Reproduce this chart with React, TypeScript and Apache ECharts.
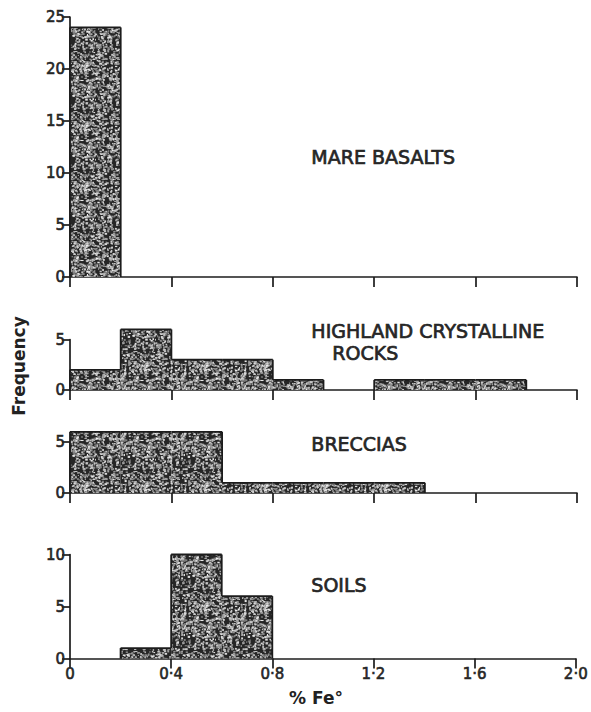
import React, { useEffect, useRef } from "react";
import * as echarts from "echarts";

// ---- data ----
const binStarts = [0, 0.2, 0.4, 0.6, 0.8, 1.0, 1.2, 1.4, 1.6, 1.8];
const binWidth = 0.2;
const mareBasalts = [24, 0, 0, 0, 0, 0, 0, 0, 0, 0];
const highlandRocks = [2, 6, 3, 3, 1, 0, 1, 1, 1, 0];
const breccias = [6, 6, 6, 1, 1, 1, 1, 0, 0, 0];
const soils = [0, 1, 10, 6, 0, 0, 0, 0, 0, 0];
const panelTitles = [["MARE BASALTS"], ["HIGHLAND CRYSTALLINE", "ROCKS"], ["BRECCIAS"], ["SOILS"]];
const yMaxes = [25, 5, 5, 10];
const xTicks = [0, 0.4, 0.8, 1.2, 1.6, 2.0];

const FONT = "DejaVu Sans";
const INK = "#1c1c1c";

function makeSpeckle(): HTMLCanvasElement {
  const c = document.createElement("canvas");
  c.width = 60;
  c.height = 60;
  const ctx = c.getContext("2d")!;
  ctx.fillStyle = "#262626";
  ctx.fillRect(0, 0, 60, 60);
  let s = 987654;
  const rnd = () => {
    s = (s * 1103515245 + 12345) & 0x7fffffff;
    return s / 0x7fffffff;
  };
  for (let k = 0; k < 900; k++) {
    const x = rnd() * 60;
    const y = rnd() * 60;
    const g = Math.floor(120 + rnd() * 120);
    ctx.fillStyle = `rgb(${g},${g},${g})`;
    ctx.fillRect(x, y, 1 + rnd() * 1.6, 1 + rnd() * 1.2);
  }
  return c;
}

export default function App() {
  const ref = useRef<HTMLDivElement>(null);
  useEffect(() => {
    document.body.style.margin = "0";
    if (!ref.current) return;
    const chart = echarts.init(ref.current, undefined, { renderer: "svg" });
    const speckle = makeSpeckle();
    const panels = [mareBasalts, highlandRocks, breccias, soils];
    const grids = [
      { left: 70, width: 507, top: 17, height: 260 },
      { left: 70, width: 507, top: 339.5, height: 50.5 },
      { left: 70, width: 507, top: 442, height: 51 },
      { left: 70, width: 507, top: 554.5, height: 104 },
    ];
    const fmt = (v: number) => (v === 0 ? "0" : v.toFixed(1).replace(".", "·"));

    const labelCommon = {
      fontFamily: FONT,
      fontSize: 15,
      color: "#262626",
      textBorderColor: "#262626",
      textBorderWidth: 0.6,
    };

    const xAxis = grids.map((_, i) => ({
      type: "value",
      gridIndex: i,
      min: 0,
      max: 2.0,
      interval: 0.4,
      splitLine: { show: false },
      axisLine: { show: true, onZero: false, lineStyle: { color: INK, width: 1.7 } },
      axisTick: { show: true, length: 10, lineStyle: { color: INK, width: 1.7 } },
      axisLabel: {
        ...labelCommon,
        show: i === 3,
        formatter: fmt,
        margin: 8,
        customValues: xTicks,
      },
    }));
    const yAxis = grids.map((_, i) => ({
      type: "value",
      gridIndex: i,
      min: 0,
      max: yMaxes[i],
      interval: 5,
      splitLine: { show: false },
      axisLine: { show: true, lineStyle: { color: INK, width: 1.7 } },
      axisTick: { show: true, length: 8, lineStyle: { color: INK, width: 1.7 } },
      axisLabel: { ...labelCommon, margin: 5 },
    }));

    const series = panels.map((counts, i) => ({
      type: "custom",
      xAxisIndex: i,
      yAxisIndex: i,
      clip: false,
      data: binStarts.map((b, k) => [b, b + binWidth, counts[k]]),
      encode: { x: [0, 1], y: 2 },
      renderItem: (params: any, api: any) => {
        const k = params.dataIndex;
        const x0 = api.value(0);
        const x1 = api.value(1);
        const c = api.value(2);
        const prev = k > 0 ? counts[k - 1] : 0;
        const next = k < counts.length - 1 ? counts[k + 1] : 0;
        const children: any[] = [];
        const base = api.coord([x0, 0]);
        const top = api.coord([x1, c]);
        if (c > 0) {
          children.push({
            type: "rect",
            shape: { x: base[0], y: top[1], width: top[0] - base[0], height: base[1] - top[1] },
            style: { fill: { image: speckle, repeat: "repeat" }, stroke: null },
          });
          const tl = api.coord([x0, c]);
          children.push({
            type: "line",
            shape: { x1: tl[0], y1: tl[1], x2: top[0], y2: top[1] },
            style: { stroke: INK, lineWidth: 1.8 },
          });
        }
        if (prev !== c) {
          const a = api.coord([x0, prev]);
          const b = api.coord([x0, c]);
          children.push({
            type: "line",
            shape: { x1: a[0], y1: a[1], x2: b[0], y2: b[1] },
            style: { stroke: INK, lineWidth: 1.8 },
          });
        }
        if (k === counts.length - 1 && c > 0 && next === 0) {
          const a = api.coord([x1, 0]);
          children.push({
            type: "line",
            shape: { x1: a[0], y1: a[1], x2: top[0], y2: top[1] },
            style: { stroke: INK, lineWidth: 1.8 },
          });
        }
        return { type: "group", children };
      },
    }));

    const titleStyle = {
      fontFamily: FONT,
      fontSize: 19,
      fill: "#262626",
      stroke: "#262626",
      lineWidth: 0.7,
    };
    const graphic: any[] = [
      { type: "text", left: 311, top: 147, style: { ...titleStyle, text: panelTitles[0][0] } },
      { type: "text", left: 311, top: 321, style: { ...titleStyle, text: panelTitles[1][0] } },
      { type: "text", left: 332, top: 343, style: { ...titleStyle, text: panelTitles[1][1] } },
      { type: "text", left: 311, top: 434, style: { ...titleStyle, text: panelTitles[2][0] } },
      { type: "text", left: 311, top: 575, style: { ...titleStyle, text: panelTitles[3][0] } },
      {
        type: "text",
        x: 316,
        y: 698,
        style: {
          text: "% Fe°",
          fontFamily: FONT,
          fontSize: 17,
          fontWeight: "bold",
          fill: "#222",
          align: "center",
          verticalAlign: "middle",
        },
      },
      {
        type: "text",
        x: 19,
        y: 366,
        rotation: Math.PI / 2,
        style: {
          text: "Frequency",
          fontFamily: FONT,
          fontSize: 17,
          fontWeight: "bold",
          fill: "#222",
          align: "center",
          verticalAlign: "middle",
        },
      },
    ];

    chart.setOption({
      animation: false,
      backgroundColor: "#ffffff",
      grid: grids,
      xAxis,
      yAxis,
      series,
      graphic,
    });
    return () => chart.dispose();
  }, []);
  return <div ref={ref} style={{ width: 591, height: 712 }} />;
}
